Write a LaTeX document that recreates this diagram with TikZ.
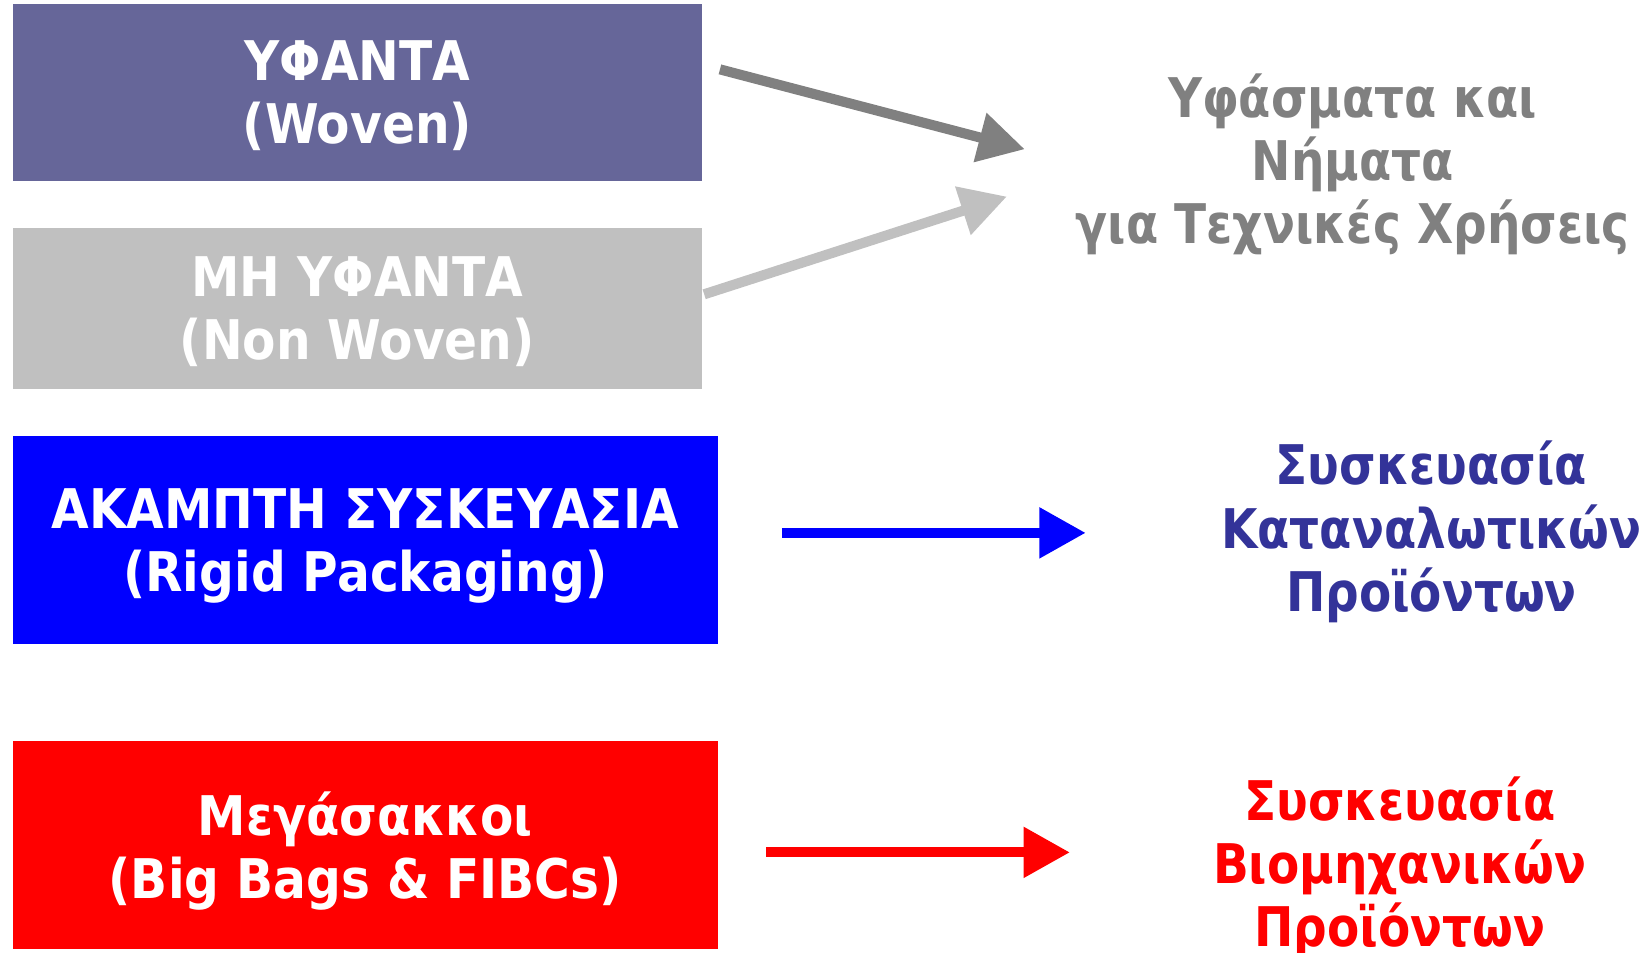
\documentclass[tikz,border=0pt]{standalone}
\usepackage{fontspec}
\setmainfont[FakeStretch=0.86]{DejaVu Sans}
\newfontfamily\boxfont[FakeStretch=0.89]{DejaVu Sans}
\usetikzlibrary{arrows.meta}
\definecolor{wovenblue}{HTML}{666699}
\definecolor{lightgrey}{HTML}{C0C0C0}
\definecolor{darkgrey}{HTML}{808080}
\definecolor{navy}{HTML}{333399}

\begin{document}
\begin{tikzpicture}[x=0.5pt,y=-0.5pt,
  catbox/.style={inner sep=0pt,align=center,text=white,text depth=-1.6pt,font=\boxfont\bfseries\fontsize{26}{30}\selectfont},
  sidetext/.style={align=center,font=\bfseries\fontsize{26}{30}\selectfont},
  arr/.style={line width=4.8pt,-{Triangle[length=22pt,width=23pt]}}]
\useasboundingbox (0,0) rectangle (1568,906);
\node[catbox,fill=wovenblue,minimum width=328pt,minimum height=84pt] (woven) at (340,88) {ΥΦΑΝΤΑ\\(Woven)};
\node[catbox,fill=lightgrey,minimum width=328pt,minimum height=76.5pt] (nonwoven) at (340,293.5) {ΜΗ ΥΦΑΝΤΑ\\(Non Woven)};
\node[catbox,fill=blue,minimum width=335.5pt,minimum height=99pt] (rigid) at (347.5,514) {ΑΚΑΜΠΤΗ ΣΥΣΚΕΥΑΣΙΑ\\(Rigid Packaging)};
\node[catbox,fill=red,minimum width=335.5pt,minimum height=99pt] (bags) at (347.5,804) {Μεγάσακκοι\\(Big Bags \& FIBCs)};
\node[sidetext,text=darkgrey] (tech) at (1287,156) {Υφάσματα και\\Νήματα\\για Τεχνικές Χρήσεις};
\node[sidetext,text=navy] (cons) at (1362,506) {Συσκευασία\\Καταναλωτικών\\Προϊόντων};
\node[sidetext,text=red] (ind) at (1332,825) {Συσκευασία\\Βιομηχανικών\\Προϊόντων};
% arrows
\coordinate (w1) at (685,66);
\coordinate (w2) at (975,142);
\coordinate (n1) at (670,280);
\coordinate (n2) at (958,187);
\coordinate (r1) at (744,507);
\coordinate (r2) at (1033,507);
\coordinate (b1) at (729,811);
\coordinate (b2) at (1018,811);
\draw[arr,darkgrey] (w1) -- (w2);
\draw[arr,lightgrey] (n1) -- (n2);
\draw[arr,blue] (r1) -- (r2);
\draw[arr,red] (b1) -- (b2);
\end{tikzpicture}
\end{document}
